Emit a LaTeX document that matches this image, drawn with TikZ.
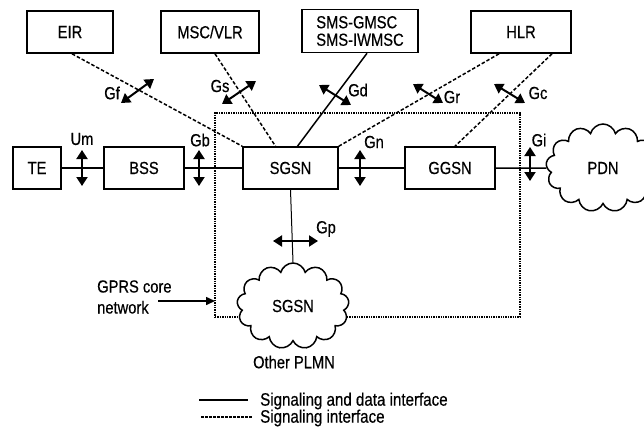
\documentclass[tikz,border=0pt]{standalone}
\usepackage{fontspec}
\setmainfont[FakeStretch=0.84,FakeBold=0.5]{Liberation Sans}
\usetikzlibrary{arrows.meta,shapes.symbols}
\begin{document}
\begin{tikzpicture}[x=1pt,y=-1pt,
  txt/.style={font=\fontsize{17.5}{18}\selectfont, inner sep=0pt},
  box/.style={txt, draw, line width=1.6pt, minimum height=42pt},
  lbl/.style={txt},
  sig/.style={line width=1.5pt, dash pattern=on 3.5pt off 2pt},
  sd/.style={line width=1.5pt},
  dbl/.style={line width=2pt, {Triangle[length=9pt,width=11pt]}-{Triangle[length=9pt,width=11pt]}},
  cloudy/.style={txt, cloud, draw, fill=white, line width=1.5pt, cloud puffs=13, cloud ignores aspect},
  core/.style={draw, line width=1.4pt, densely dotted}
]
\useasboundingbox (0,0) rectangle (644,428);
\clip (0,0) rectangle (644,428);

% GPRS core network boundary
\node[core, minimum width=305pt, minimum height=204pt, inner sep=0pt] (core) at (367.5,215) {};

% boxes
\node[box, minimum width=86pt] (EIR) at (70,32) {EIR};
\node[box, minimum width=98pt] (MSC) at (210,32) {MSC/VLR};
\node[box, minimum width=116pt, minimum height=43pt, align=left, font=\fontsize{17.5}{17.5}\selectfont] (SMS) at (360,31) {SMS-GMSC\\SMS-IWMSC};
\node[box, minimum width=100pt] (HLR) at (521,32) {HLR};
\node[box, minimum width=48pt] (TE) at (37,168) {TE};
\node[box, minimum width=80pt] (BSS) at (144,168) {BSS};
\node[box, minimum width=95pt] (SGSN) at (290.5,168) {SGSN};
\node[box, minimum width=90pt] (GGSN) at (450,168) {GGSN};

% clouds
\node[cloudy, minimum width=114pt, minimum height=88pt] (PDN) at (603,168) {PDN};
\node[cloudy, minimum width=112pt, minimum height=86pt] (OTH) at (293,306) {SGSN};
\node[lbl] (plmn) at (294,362) {Other PLMN};

% solid interfaces
\draw[sd] (TE) -- (BSS);
\draw[sd] (BSS) -- (SGSN);
\draw[sd] (SGSN) -- (GGSN);
\draw[sd] (GGSN) -- (PDN.west);
\draw[line width=1pt] (SGSN.south) -- (OTH.north);
\draw[sd] ([xshift=7pt]SMS.south) -- ([xshift=7pt]SGSN.north);

% signaling interfaces
\draw[sig] ([xshift=2pt]EIR.south) -- (SGSN.north west);
\draw[sig] ([xshift=5pt]MSC.south) -- ([xshift=-15pt]SGSN.north);
\draw[sig] ([xshift=-22pt]HLR.south) -- (SGSN.north east);
\draw[sig] ([xshift=31pt]HLR.south) -- ([xshift=5pt]GGSN.north);

% interface arrows
\coordinate (um1) at (82,150); \coordinate (um2) at (82,186);
\coordinate (gb1) at (199,150); \coordinate (gb2) at (199,186);
\coordinate (gn1) at (360,150); \coordinate (gn2) at (360,186);
\coordinate (gi1) at (530,147); \coordinate (gi2) at (530,181);
\coordinate (gp1) at (273,241); \coordinate (gp2) at (318,241);
\coordinate (gf1) at (121,103); \coordinate (gf2) at (154,79);
\coordinate (gs1) at (222,104); \coordinate (gs2) at (256,81);
\coordinate (gd1) at (319,85); \coordinate (gd2) at (351,105);
\coordinate (gr1) at (413,84); \coordinate (gr2) at (443,103);
\coordinate (gc1) at (494,84); \coordinate (gc2) at (525,103);
\draw[dbl] (um1) -- (um2);
\draw[dbl] (gb1) -- (gb2);
\draw[dbl] (gn1) -- (gn2);
\draw[dbl] (gi1) -- (gi2);
\draw[dbl] (gp1) -- (gp2);
\draw[dbl] (gf1) -- (gf2);
\draw[dbl] (gs1) -- (gs2);
\draw[dbl] (gd1) -- (gd2);
\draw[dbl] (gr1) -- (gr2);
\draw[dbl] (gc1) -- (gc2);

% interface labels
\node[lbl] (lum) at (82,139) {Um};
\node[lbl] (lgb) at (200,140) {Gb};
\node[lbl] (lgn) at (374,142) {Gn};
\node[lbl] (lgi) at (539,140) {Gi};
\node[lbl] (lgp) at (326,229) {Gp};
\node[lbl] (lgf) at (112,93) {Gf};
\node[lbl] (lgs) at (220,86) {Gs};
\node[lbl] (lgd) at (358,90) {Gd};
\node[lbl] (lgr) at (452,97) {Gr};
\node[lbl] (lgc) at (538,93) {Gc};

% GPRS core network label
\node[lbl, align=left, anchor=west, font=\fontsize{17.5}{21}\selectfont] (gprs) at (97,297) {GPRS core\\network};
\coordinate (ga0) at (158,301);
\coordinate (ga) at (215,301);
\draw[line width=1.5pt, -{Triangle[length=9pt,width=8pt]}] (ga0) -- (ga);

% legend
\coordinate (ls1) at (199,400); \coordinate (ls2) at (248,400);
\coordinate (ld1) at (201,417); \coordinate (ld2) at (252,417);
\draw[sd] (ls1) -- (ls2);
\draw[line width=1.2pt, dash pattern=on 2.5pt off 1.5pt] (ld1) -- (ld2);
\node[lbl, anchor=west, font=\fontsize{18}{18}\selectfont] (leg1) at (260,401) {Signaling and data interface};
\node[lbl, anchor=west, font=\fontsize{18}{18}\selectfont] (leg2) at (260,418) {Signaling interface};
\end{tikzpicture}
\end{document}
